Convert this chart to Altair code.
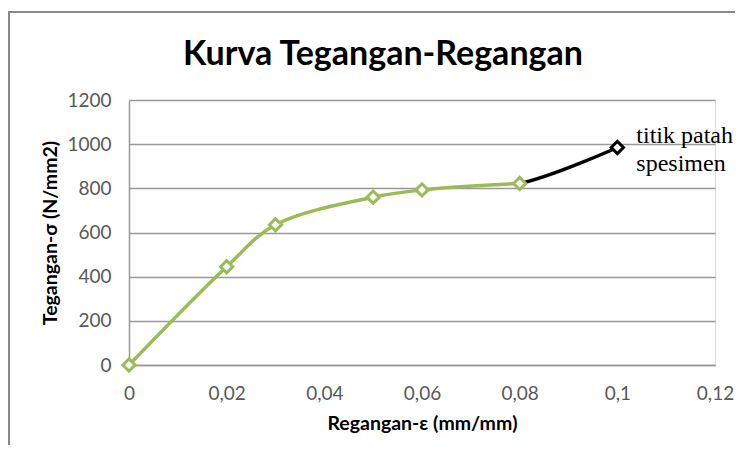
import altair as alt
import pandas as pd

# Data
strain = [0, 0.02, 0.03, 0.05, 0.06, 0.08, 0.1]
stress = [0, 445, 635, 760, 793, 822, 985]
x_ticks = [0, 0.02, 0.04, 0.06, 0.08, 0.1, 0.12]
y_ticks = [0, 200, 400, 600, 800, 1000, 1200]
annotation = ["titik patah", "spesimen"]
title_text = ["Kurva Tegangan-Regangan"]
x_title = "Regangan-ε (mm/mm)"
y_title = "Tegangan-σ (N/mm2)"

GREEN = "#9bbb59"
W, H = 586, 265

df = pd.DataFrame({"strain": strain, "stress": stress})
green_df = df.iloc[:6]
black_df = df.iloc[4:]
last_df = df.iloc[6:]
ann_df = pd.DataFrame({"strain": [strain[-1]], "stress": [stress[-1]],
                       "label": ["\n".join(annotation)]})
title_df = pd.DataFrame({"t": title_text})

xs = alt.Scale(domain=[0, 0.12], nice=False, zero=True)
ys = alt.Scale(domain=[0, 1200], nice=False)

x_enc = alt.X("strain:Q", scale=xs, axis=alt.Axis(
    values=x_ticks, title=x_title, grid=False, ticks=False, tickSize=0,
    labelExpr="replace(format(datum.value, '~g'), '.', ',')",
    labelFont="Lato", labelFontSize=19, labelColor="#595959",
    labelBaseline="alphabetic", labelPadding=34, labelFlush=False,
    domainColor="#999999", domainWidth=1.5,
    titleFont="Lato", titleFontSize=19.5, titleFontWeight="bold", titleColor="#000000",
    titleX=W / 2, titleY=58, titleBaseline="middle", titleAlign="center"))
y_enc = alt.Y("stress:Q", scale=ys, axis=alt.Axis(
    values=y_ticks, title=y_title, grid=True, ticks=False, tickSize=0,
    format="d", gridColor="#999999", gridWidth=1.5,
    labelFont="Lato", labelFontSize=19, labelColor="#595959",
    labelBaseline="middle", labelPadding=18, labelFlush=False,
    domainColor="#999999", domainWidth=1.5,
    titleFont="Lato", titleFontSize=19.5, titleFontWeight="bold", titleColor="#000000",
    titleX=-79, titleY=H / 2, titleAngle=-90, titleBaseline="middle", titleAlign="center"))

frame = alt.Chart(title_df).mark_rect(fill=None, stroke="#888888", strokeWidth=2).encode(
    x=alt.value(-120), x2=alt.value(800), y=alt.value(-88), y2=alt.value(600))

title = alt.Chart(title_df).mark_text(
    font="Lato", fontSize=34, fontWeight="bold", color="#000000",
    align="center", baseline="alphabetic").encode(
    x=alt.value(W / 2 - 39), y=alt.value(-35), text="t:N")

black_line = alt.Chart(black_df).mark_line(
    color="#000000", strokeWidth=3.5, interpolate="catmull-rom",
    strokeDash=[0, 97, 400, 0]).encode(
    x=x_enc, y=y_enc, order="strain:Q")
green_line = alt.Chart(green_df).mark_line(
    color=GREEN, strokeWidth=3.5, interpolate="catmull-rom").encode(
    x=x_enc, y=y_enc, order="strain:Q")
green_pts = alt.Chart(green_df).mark_point(
    shape="diamond", size=150, filled=True, fill="white", stroke=GREEN,
    strokeWidth=3, opacity=1).encode(x=x_enc, y=y_enc)
black_pts = alt.Chart(last_df).mark_point(
    shape="diamond", size=150, filled=True, fill="white", stroke="#000000",
    strokeWidth=3, opacity=1).encode(x=x_enc, y=y_enc)
ann = alt.Chart(ann_df).mark_text(
    font="Liberation Serif", fontSize=24, align="left", baseline="alphabetic",
    lineBreak="\n", lineHeight=28, dx=19, dy=-4, color="#000000").encode(
    x=x_enc, y=y_enc, text="label:N")

chart = alt.layer(frame, title, black_line, green_line, green_pts, black_pts, ann).properties(
    width=W, height=H,
    autosize=alt.AutoSizeParams(type="none"),
    padding={"left": 121, "top": 92, "right": 20, "bottom": 80},
).configure_view(stroke=None).configure(background="white")

chart.save("out.html", embed_options={"renderer": "svg", "actions": False})
